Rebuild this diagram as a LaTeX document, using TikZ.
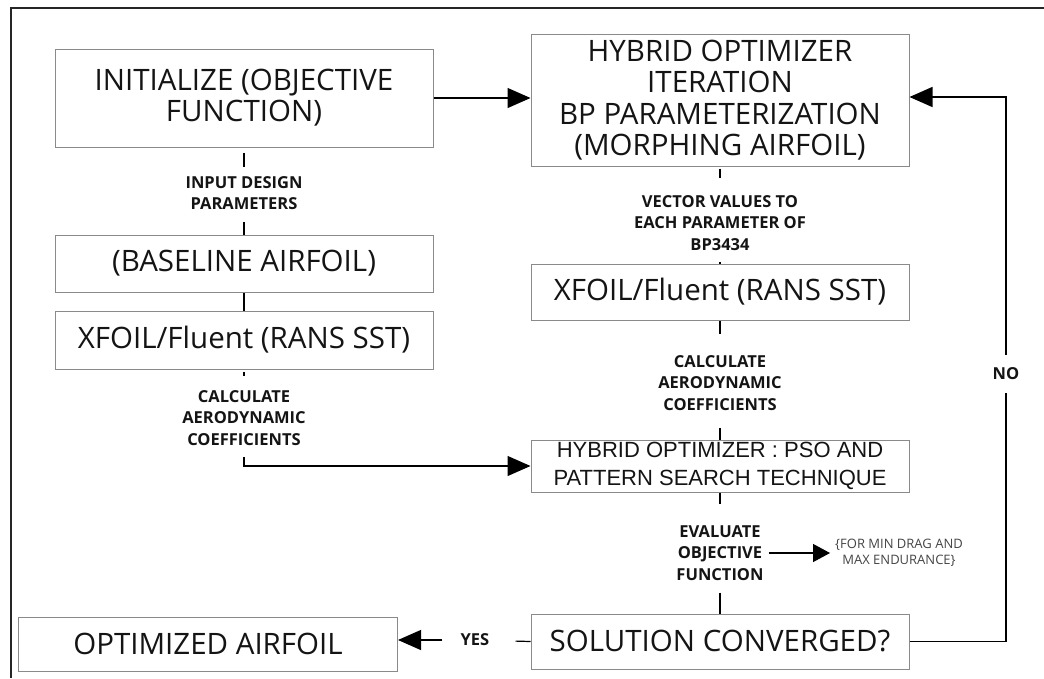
\documentclass[tikz,border=0pt]{standalone}
\usepackage{fontspec}
\setmainfont{Open Sans}
\newfontfamily\psofont{Liberation Sans}
\usetikzlibrary{arrows.meta}
\definecolor{boxline}{HTML}{8A8A8A}
\definecolor{txt}{HTML}{141414}
\definecolor{notetxt}{HTML}{444444}
\tikzset{
  x=1pt, y=-1pt,
  flowbox/.style={draw=boxline, line width=1pt, minimum width=378pt, inner sep=0pt,
    align=center, text=txt, font=\fontsize{29.5}{31}\selectfont},
  steplabel/.style={align=center, inner sep=1pt, text=txt,
    font=\bfseries\fontsize{16.5}{21.5}\selectfont},
  conn/.style={line width=1.2pt, draw=black},
  arr/.style={conn, -{Triangle[length=23pt,width=20pt]}},
  smallarr/.style={conn, -{Triangle[length=17pt,width=18pt]}},
}
\begin{document}
\begin{tikzpicture}
\useasboundingbox (0,0) rectangle (1044,678);
% outer frame (top and left edges)
\draw[line width=2pt, black!85] (11,678) -- (11,8) -- (1044,8);

% left column
\node[flowbox, minimum height=98pt] (init) at (244,98) {INITIALIZE (OBJECTIVE\\FUNCTION)};
\node[steplabel] (lab1) at (244,193) {INPUT DESIGN\\PARAMETERS};
\node[flowbox, minimum height=57pt] (base) at (244,263.5) {(BASELINE AIRFOIL)};
\node[flowbox, minimum height=58pt] (xfl) at (244,340) {XFOIL/Fluent (RANS SST)};
\node[steplabel] (lab3) at (244,418) {CALCULATE\\AERODYNAMIC\\COEFFICIENTS};
\node[flowbox, minimum height=54pt, minimum width=379pt] (opt) at (208,644) {OPTIMIZED AIRFOIL};

% right column
\node[flowbox, minimum height=132pt, font=\fontsize{29.5}{31.5}\selectfont] (hyb) at (720,100)
  {HYBRID OPTIMIZER\\ITERATION\\BP PARAMETERIZATION\\(MORPHING AIRFOIL)};
\node[steplabel] (lab2) at (720,223) {VECTOR VALUES TO\\EACH PARAMETER OF\\BP3434};
\node[flowbox, minimum height=56pt] (xfr) at (720,292) {XFOIL/Fluent (RANS SST)};
\node[steplabel] (lab4) at (720,383) {CALCULATE\\AERODYNAMIC\\COEFFICIENTS};
\node[flowbox, minimum height=52pt, font=\psofont\fontsize{22}{28}\selectfont] (pso) at (720,466)
  {HYBRID OPTIMIZER : PSO AND\\PATTERN SEARCH TECHNIQUE};
\node[steplabel] (lab5) at (720,553) {EVALUATE\\OBJECTIVE\\FUNCTION};
\node[align=center, inner sep=1pt, text=notetxt, font=\fontsize{13}{16.5}\selectfont] (note) at (899,553)
  {\{FOR MIN DRAG AND\\MAX ENDURANCE\}};
\node[flowbox, minimum height=55pt] (sol) at (720,641.5) {SOLUTION CONVERGED?};

\node[steplabel] (yes) at (475,640) {YES};
\node[steplabel] (no) at (1006,374) {NO};
\coordinate (fbtop) at (1006,97);

% connectors, left column
\draw[arr] (init.east) -- (init.east -| hyb.west);
\draw[conn, shorten <=5pt, shorten >=8pt] (init) -- (lab1);
\draw[conn, shorten <=11pt] (lab1) -- (base);
\draw[conn] (base) -- (xfl);
\draw[conn, shorten <=2pt, shorten >=13pt] (xfl) -- (lab3);
\draw[arr] ([yshift=-10pt]lab3.south) |- (pso.west);

% connectors, right column
\draw[conn, shorten <=2pt, shorten >=16pt] (hyb) -- (lab2);
\draw[conn, shorten <=10pt] (lab2) -- (xfr);
\draw[conn, shorten >=20pt] (xfr) -- (lab4);
\draw[conn, shorten <=16pt] (lab4) -- (pso);
\draw[conn, shorten >=20pt] (pso) -- (lab5);
\draw[conn, shorten <=11pt] (lab5) -- (sol);
\draw[smallarr, shorten <=4pt, shorten >=4pt] (lab5) -- (note);

% decision outcomes
\draw[conn, shorten >=25pt] (sol.west) -- (yes);
\draw[arr, shorten <=17pt] (yes) -- (opt.east |- yes);
\draw[conn, line width=1.4pt, shorten >=12pt] (sol.east) -| (no);
\draw[arr, line width=1.4pt, shorten <=12pt] (no) |- (fbtop) -- (fbtop -| hyb.east);
\end{tikzpicture}
\end{document}
